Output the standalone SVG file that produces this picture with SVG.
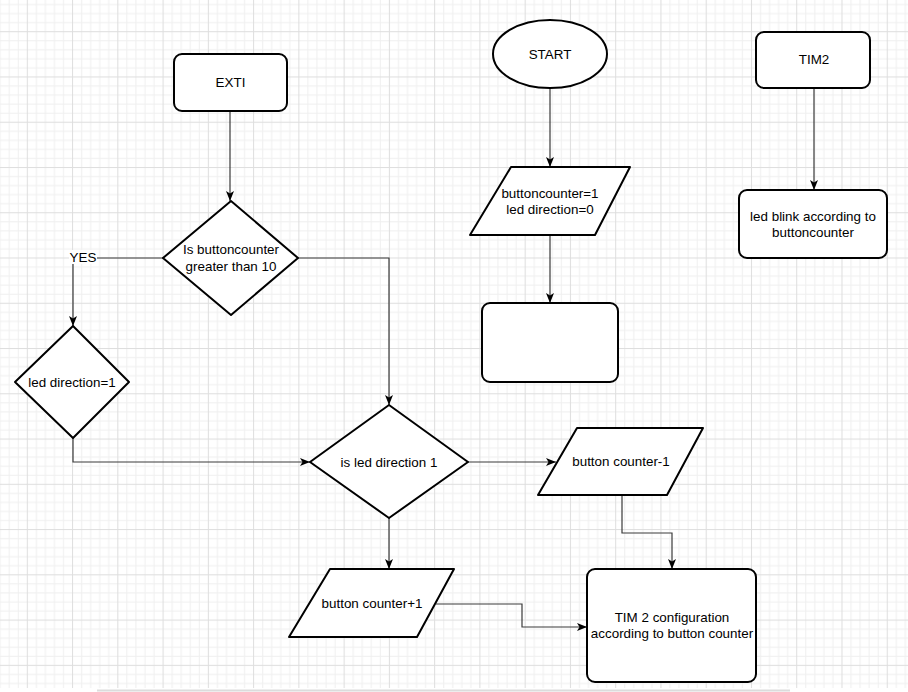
<svg xmlns="http://www.w3.org/2000/svg" width="908" height="692" viewBox="0 0 908 692">
<style>
.n{fill:#fff;stroke:#000;stroke-width:2;stroke-linejoin:round}
.t{font-family:"Liberation Sans",Arial,sans-serif;font-size:13.4px;fill:#000;text-anchor:middle}
.c{fill:none;stroke:#3a3a3a;stroke-width:1.2}
.a{marker-end:url(#arr)}
</style>
<defs>
<pattern id="grid" x="26.8" y="31.2" width="45.26" height="45.26" patternUnits="userSpaceOnUse">
<rect x="0" y="0" width="45.26" height="45.26" fill="#fff"/>
<g fill="#f0f0f0">
<rect x="9.05" y="0" width="1" height="45.26"/>
<rect x="18.1" y="0" width="1" height="45.26"/>
<rect x="27.16" y="0" width="1" height="45.26"/>
<rect x="36.21" y="0" width="1" height="45.26"/>
<rect y="9.05" x="0" height="1" width="45.26"/>
<rect y="18.1" x="0" height="1" width="45.26"/>
<rect y="27.16" x="0" height="1" width="45.26"/>
<rect y="36.21" x="0" height="1" width="45.26"/>
</g>
<g fill="#dedede">
<rect x="0" y="0" width="1" height="45.26"/>
<rect x="0" y="0" width="45.26" height="1"/>
</g>
</pattern>
<marker id="arr" viewBox="0 0 10 8" refX="10" refY="4" markerWidth="10" markerHeight="8" orient="auto" markerUnits="userSpaceOnUse">
<path d="M0,0 L10,4 L0,8 L2.5,4 Z" fill="#000"/>
</marker>
</defs>
<rect x="0" y="0" width="908" height="692" fill="#fff"/>
<rect x="0" y="0" width="908" height="688" fill="url(#grid)"/>
<line x1="97" y1="690.5" x2="790" y2="690.5" stroke="#dcdcdc" stroke-width="2"/>

<g id="connectors">
<path class="c a" d="M230,111 V201"/>
<path class="c a" d="M163,258 H73 V326"/>
<path class="c a" d="M298,258 H389 V405"/>
<path class="c a" d="M73,438 V462 H310"/>
<path class="c a" d="M468,462 H556"/>
<path class="c a" d="M389,518 V569"/>
<path class="c a" d="M436,604 H522 V627 H587"/>
<path class="c a" d="M622,495 V533 H672 V569"/>
<path class="c a" d="M550,88 V167"/>
<path class="c a" d="M550,235 V303"/>
<path class="c a" d="M814,88 V190"/>
<rect x="69" y="250" width="28" height="14" fill="#fff"/>
<text class="t" x="83" y="262">YES</text>
</g>

<g id="exti">
<rect class="n" x="174" y="54" width="113" height="57" rx="8"/>
<text class="t" x="230.5" y="87">EXTI</text>
</g>
<g id="d-buttoncounter">
<polygon class="n" points="231,201 298,258 231,315 163,258"/>
<text class="t" x="231" y="254">Is buttoncounter</text>
<text class="t" x="231" y="271">greater than 10</text>
</g>
<g id="d-led1">
<polygon class="n" points="73,326 129,382 73,438 15,382"/>
<text class="t" x="72" y="387">led direction=1</text>
</g>
<g id="d-isled">
<polygon class="n" points="389,405 468,462 389,518 310,462"/>
<text class="t" x="389" y="467">is led direction 1</text>
</g>
<g id="p-plus">
<polygon class="n" points="330,569 454,569 417,637 289,637"/>
<text class="t" x="372" y="608">button counter+1</text>
</g>
<g id="p-minus">
<polygon class="n" points="577,428 703,428 667,495 538,495"/>
<text class="t" x="621" y="466">button counter-1</text>
</g>
<g id="tim-config">
<rect class="n" x="587" y="569" width="169" height="113" rx="8"/>
<text class="t" x="672" y="622">TIM 2 configuration</text>
<text class="t" x="672" y="638">according to button counter</text>
</g>
<g id="start">
<ellipse class="n" cx="550" cy="54" rx="57" ry="34"/>
<text class="t" x="550" y="59">START</text>
</g>
<g id="p-init">
<polygon class="n" points="511,167 630,167 595,235 470,235"/>
<text class="t" x="550" y="198">buttoncounter=1</text>
<text class="t" x="550" y="214">led direction=0</text>
</g>
<g id="empty">
<rect class="n" x="482" y="303" width="136" height="79" rx="8"/>
</g>
<g id="tim2">
<rect class="n" x="756" y="32" width="114" height="56" rx="8"/>
<text class="t" x="814" y="64">TIM2</text>
</g>
<g id="led-blink">
<rect class="n" x="739" y="190" width="148" height="68" rx="8"/>
<text class="t" x="813" y="221">led blink according to</text>
<text class="t" x="813" y="237">buttoncounter</text>
</g>
</svg>
